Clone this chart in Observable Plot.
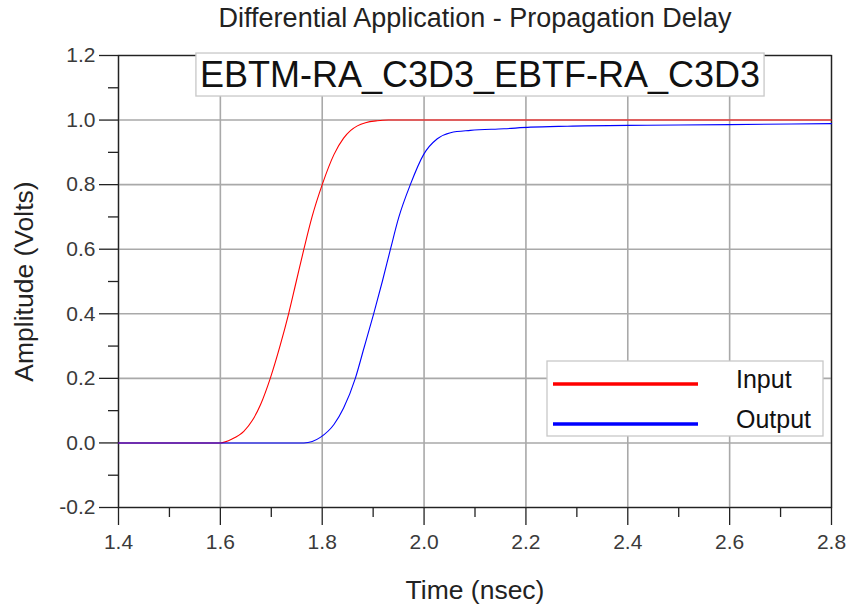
<!DOCTYPE html>
<html><head><meta charset="utf-8">
<script src="https://cdn.jsdelivr.net/npm/d3@7"></script>
<script src="https://cdn.jsdelivr.net/npm/@observablehq/plot@0.6"></script>
<style>
body{margin:0;background:#fff;}
#chart svg{font-family:"Liberation Sans",Arial,Helvetica,sans-serif;}
</style></head><body><div id="chart"></div>
<script>
const title = "Differential Application - Propagation Delay";
const caseLabel = "EBTM-RA_C3D3_EBTF-RA_C3D3";
const xLabel = "Time (nsec)";
const yLabel = "Amplitude (Volts)";
const seriesNames = ["Input", "Output"];
const seriesColors = ["#ff0000", "#0000ff"];

const inputTime = [1.4, 1.6, 1.623, 1.646, 1.663, 1.679, 1.698, 1.718, 1.734, 1.749, 1.764, 1.780, 1.8, 1.823, 1.842, 1.856, 1.869, 1.885, 1.908, 1.93, 2.8];
const inputAmp  = [0,   0,   0.012, 0.036, 0.07,  0.119, 0.2,   0.305, 0.4,   0.5,   0.6,   0.7,   0.8, 0.893, 0.944, 0.968, 0.982, 0.992, 0.998, 1.0, 1.0];

const outputTime = [1.4, 1.764, 1.797, 1.823, 1.842, 1.865, 1.882, 1.901, 1.918, 1.934, 1.950, 1.973, 1.999, 2.026, 2.052, 2.091, 2.157, 2.209, 2.281, 2.438, 2.6, 2.8];
const outputAmp  = [0,   0,     0.018, 0.057, 0.108, 0.2,   0.294, 0.4,   0.5,   0.6,   0.697, 0.8,   0.893, 0.942, 0.961, 0.968, 0.973, 0.978, 0.981, 0.984, 0.986, 0.989];

const xTicks = [1.4, 1.6, 1.8, 2.0, 2.2, 2.4, 2.6, 2.8];
const xMinorTicks = [1.5, 1.7, 1.9, 2.1, 2.3, 2.5, 2.7];
const yTicks = [-0.2, 0.0, 0.2, 0.4, 0.6, 0.8, 1.0, 1.2];
const yMinorTicks = [-0.1, 0.1, 0.3, 0.5, 0.7, 0.9, 1.1];

const inputRows = inputTime.map((t, i) => ({t, v: inputAmp[i]}));
const outputRows = outputTime.map((t, i) => ({t, v: outputAmp[i]}));
const fmt = d => d.toFixed(1);
const gridStyle = {stroke: "#a9a9a9", strokeOpacity: 1, strokeWidth: 1.6};

const plot = Plot.plot({
  width: 850, height: 609,
  marginLeft: 118, marginRight: 19, marginTop: 55, marginBottom: 102,
  x: {domain: [1.4, 2.8]},
  y: {domain: [-0.2, 1.2]},
  style: {background: "white", color: "#333", fontFamily: "'Liberation Sans', Arial, sans-serif"},
  marks: [
    Plot.gridX(xTicks, gridStyle),
    Plot.gridY(yTicks, gridStyle),
    Plot.frame({stroke: "#222", strokeWidth: 1.3}),
    Plot.axisX(xTicks, {tickSize: 18, tickPadding: 9, tickFormat: fmt, fontSize: 21, label: null, stroke: "#222", fill: "#3a3a3a", strokeWidth: 1.3}),
    Plot.axisX(xMinorTicks, {tickSize: 10, tickFormat: () => "", label: null, stroke: "#222", strokeWidth: 1.3}),
    Plot.axisY(yTicks, {tickSize: 19, tickPadding: 4, tickFormat: fmt, fontSize: 21, label: null, stroke: "#222", fill: "#3a3a3a", strokeWidth: 1.3}),
    Plot.axisY(yMinorTicks, {tickSize: 10, tickFormat: () => "", label: null, stroke: "#222", strokeWidth: 1.3}),
    Plot.line(inputRows, {x: "t", y: "v", stroke: seriesColors[0], strokeWidth: 1.1, curve: "monotone-x"}),
    Plot.line(outputRows, {x: "t", y: "v", stroke: seriesColors[1], strokeWidth: 1.1, curve: "monotone-x"}),
    Plot.text([caseLabel], {text: d => d, frameAnchor: "top", dx: 5, dy: 20, fontSize: 36, lineAnchor: "middle", fill: "#111", className: "caselabel"}),
    Plot.text([title], {text: d => d, frameAnchor: "top", dy: -37, fontSize: 27, lineAnchor: "middle", fill: "#222"}),
    Plot.text([xLabel], {text: d => d, frameAnchor: "bottom", dy: 83, fontSize: 26.5, lineAnchor: "middle", fill: "#222"}),
    Plot.text([yLabel], {text: d => d, frameAnchor: "left", textAnchor: "middle", dx: -94, rotate: -90, fontSize: 26.5, lineAnchor: "middle", fill: "#222"})
  ]
});
document.getElementById("chart").appendChild(plot);

// box behind case label, sized from the rendered text
const svg = d3.select(plot);
const lab = svg.select("g.caselabel text");
const bb = lab.node().getBBox();
d3.select(lab.node().parentNode).insert("rect", "text")
  .attr("transform", lab.attr("transform"))
  .attr("x", bb.x - 4).attr("y", bb.y - 1)
  .attr("width", bb.width + 8).attr("height", bb.height + 2)
  .attr("fill", "white").attr("stroke", "#c8c8c8").attr("stroke-width", 1.3);

// legend, placed relative to the frame
const xr = plot.scale("x").range, yr = plot.scale("y").range;
const right = xr[1] - 8, bottom = yr[0] - 71;
const lw = 276, lh = 75;
const lg = svg.append("g").attr("transform", `translate(${right - lw},${bottom - lh})`);
lg.append("rect").attr("width", lw).attr("height", lh).attr("fill", "white").attr("stroke", "#c8c8c8").attr("stroke-width", 1.3);
seriesNames.forEach((name, i) => {
  const y = 23 + i * 40;
  lg.append("line").attr("x1", 6).attr("x2", 151).attr("y1", y).attr("y2", y)
    .attr("stroke", seriesColors[i]).attr("stroke-width", 3.5);
  lg.append("text").attr("x", 189).attr("y", y - 5).attr("dy", "0.35em")
    .attr("text-anchor", "start")
    .attr("font-size", 25).attr("fill", "#111").text(name);
});
</script></body></html>
